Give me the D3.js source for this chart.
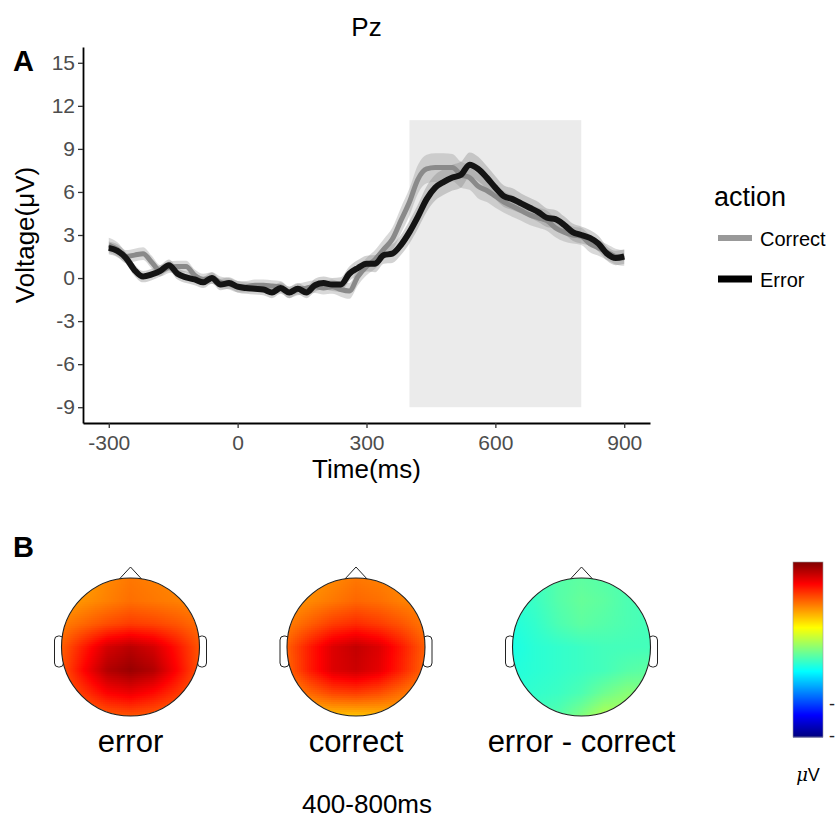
<!DOCTYPE html>
<html>
<head>
<meta charset="utf-8">
<script src="https://cdn.jsdelivr.net/npm/d3@7"></script>
<style>
  body { margin: 0; background: #fff; }
  svg { font-family: "Liberation Sans", Arial, sans-serif; }
</style>
</head>
<body>
<svg id="fig" width="835" height="820"></svg>
<script>
// ---- data ----
var times = [-300,-280,-260,-240,-220,-200,-180,-160,-140,-120,-100,-80,-60,-40,-20,
  0,20,40,60,80,100,120,140,160,180,200,220,240,260,280,
  300,320,340,360,380,400,420,440,460,480,500,520,540,560,580,
  600,620,640,660,680,700,720,740,760,780,800,820,840,860,880,900];

var correctVals = [2.3,2.0,1.5,1.6,1.7,1.1,0.5,0.75,0.8,0.8,0.2,-0.1,0.0,-0.3,-0.4,
  -0.6,-0.6,-0.5,-0.5,-0.55,-0.6,-1.0,-0.8,-0.7,-0.6,-0.7,-0.6,-0.8,-0.9,0.1,
  0.8,1.3,2.0,2.7,4.0,5.3,6.9,7.6,7.7,7.7,7.7,7.2,7.0,6.4,6.1,
  5.7,5.3,5.0,4.7,4.4,4.2,4.0,3.5,3.2,3.0,2.9,2.4,2.1,1.8,1.5,1.4];

var errorVals = [2.1,1.9,1.4,0.55,0.1,0.25,0.5,0.9,0.3,0.05,-0.1,-0.3,0.0,-0.45,-0.35,
  -0.6,-0.7,-0.75,-0.8,-1.0,-0.7,-1.0,-0.75,-1.0,-0.5,-0.35,-0.45,-0.45,0.3,0.7,
  1.0,1.0,1.6,1.7,2.3,3.2,4.3,5.5,6.3,6.7,7.0,7.2,7.9,7.6,7.0,
  6.3,5.7,5.5,5.2,4.9,4.6,4.2,4.1,3.7,3.2,3.0,2.8,2.4,1.7,1.4,1.5];

var correctSE = [0.5,0.5,0.45,0.45,0.45,0.45,0.4,0.4,0.4,0.4,0.4,0.4,0.4,0.4,0.4,
  0.4,0.4,0.4,0.4,0.4,0.4,0.4,0.4,0.45,0.45,0.45,0.5,0.5,0.55,0.6,
  0.6,0.65,0.7,0.8,0.9,0.95,1.0,1.0,1.0,1.0,0.95,0.9,0.85,0.85,0.8,
  0.8,0.75,0.75,0.7,0.7,0.7,0.7,0.65,0.65,0.6,0.6,0.6,0.55,0.55,0.55,0.55];

var errorSE = [0.45,0.45,0.4,0.4,0.4,0.4,0.4,0.4,0.4,0.4,0.4,0.4,0.4,0.4,0.4,
  0.4,0.4,0.4,0.4,0.4,0.4,0.4,0.4,0.4,0.45,0.45,0.45,0.5,0.5,0.55,
  0.55,0.6,0.6,0.65,0.7,0.8,0.85,0.9,0.9,0.9,0.9,0.9,0.85,0.85,0.8,
  0.8,0.75,0.75,0.7,0.7,0.7,0.65,0.65,0.6,0.6,0.6,0.55,0.55,0.5,0.5,0.5];

var xTicks = [-300, 0, 300, 600, 900];
var yTicks = [-9, -6, -3, 0, 3, 6, 9, 12, 15];
var window_ms = [400, 800];
var windowVolt = [-9, 11];

// topomap grids (rows top -> bottom, cols left -> right), in µV
var errorMap = [
  [2.6, 2.6, 2.9, 3.1, 3.0, 2.9, 2.8],
  [2.6, 2.8, 3.0, 3.2, 3.1, 3.0, 2.9],
  [3.0, 3.3, 3.6, 3.8, 3.7, 3.5, 3.2],
  [3.4, 4.2, 5.0, 5.3, 5.0, 4.3, 3.5],
  [3.5, 4.5, 5.4, 5.7, 5.4, 4.5, 3.5],
  [3.3, 3.9, 4.5, 4.7, 4.4, 3.9, 3.3],
  [3.0, 3.2, 3.4, 3.5, 3.4, 3.2, 3.0]
];
var correctMap = [
  [2.6, 2.7, 2.9, 3.1, 3.0, 2.9, 2.8],
  [2.7, 2.9, 3.1, 3.3, 3.2, 3.0, 2.9],
  [3.0, 3.4, 3.8, 4.0, 3.8, 3.5, 3.1],
  [3.4, 4.2, 4.9, 5.2, 4.9, 4.2, 3.4],
  [3.3, 4.2, 4.9, 5.1, 4.8, 4.1, 3.3],
  [2.8, 3.3, 3.7, 3.8, 3.6, 3.2, 2.8],
  [2.1, 2.2, 2.2, 2.2, 2.3, 2.4, 2.4]
];
var diffMap = [
  [-0.9, -0.8, -0.5, -0.4, -0.5, -0.6, -0.7],
  [-1.0, -0.8, -0.5, -0.3, -0.4, -0.6, -0.7],
  [-1.1, -0.9, -0.6, -0.4, -0.5, -0.6, -0.7],
  [-1.2, -1.0, -0.9, -0.8, -0.7, -0.7, -0.7],
  [-1.1, -1.0, -0.9, -0.8, -0.7, -0.5, -0.4],
  [-1.0, -0.9, -0.8, -0.6, -0.2, 0.1, 0.0],
  [-0.8, -0.7, -0.5, 0.0, 0.6, 0.5, 0.2]
];
var mapNames = ["error", "correct", "error - correct"];
var colorTicks = [-5.9, -3.7];

// ---- panel A ----
var svg = d3.select("#fig");

var x = d3.scaleLinear().domain([-360, 960]).range([83, 650]);
var y = d3.scaleLinear().domain([-10.1, 16.1]).range([423, 47]);

svg.append("rect")
  .attr("x", x(window_ms[0]))
  .attr("y", y(windowVolt[1]))
  .attr("width", x(window_ms[1]) - x(window_ms[0]))
  .attr("height", y(windowVolt[0]) - y(windowVolt[1]))
  .attr("fill", "#ebebeb");

var series = [
  { name: "Correct", vals: correctVals, se: correctSE, color: "#8a8a8a", width: 5, ribbon: "#9a9a9a", op: 0.38 },
  { name: "Error", vals: errorVals, se: errorSE, color: "#141414", width: 6, ribbon: "#8a8a8a", op: 0.38 }
];

var area = d3.area()
  .x(function (d) { return x(d.t); })
  .y0(function (d) { return y(d.v - d.se); })
  .y1(function (d) { return y(d.v + d.se); })
  .curve(d3.curveMonotoneX);

var line = d3.line()
  .x(function (d) { return x(d.t); })
  .y(function (d) { return y(d.v); })
  .curve(d3.curveMonotoneX);

function pts(s) {
  return times.map(function (t, i) { return { t: t, v: s.vals[i], se: s.se[i] }; });
}

series.forEach(function (s) {
  svg.append("path")
    .datum(pts(s))
    .attr("d", area)
    .attr("fill", s.ribbon)
    .attr("fill-opacity", s.op);
});
series.forEach(function (s) {
  svg.append("path")
    .datum(pts(s))
    .attr("d", line)
    .attr("fill", "none")
    .attr("stroke", s.color)
    .attr("stroke-width", s.width)
    .attr("stroke-linejoin", "round");
});

var xAxis = svg.append("g")
  .attr("transform", "translate(0,423)")
  .call(d3.axisBottom(x).tickValues(xTicks).tickFormat(String).tickSize(5).tickSizeOuter(0).tickPadding(7));
var yAxis = svg.append("g")
  .attr("transform", "translate(83,0)")
  .call(d3.axisLeft(y).tickValues(yTicks).tickFormat(String).tickSize(5).tickSizeOuter(0).tickPadding(3));

[xAxis, yAxis].forEach(function (g) {
  g.select(".domain").attr("stroke", "#000").attr("stroke-width", 1.8);
  g.selectAll(".tick line").attr("stroke", "#333").attr("stroke-width", 1.3);
  g.selectAll(".tick text")
    .attr("fill", "#4d4d4d")
    .style("font-size", "21px")
    .style("font-family", "Liberation Sans, Arial, sans-serif");
});

svg.append("text")
  .attr("x", 366.5).attr("y", 478)
  .attr("text-anchor", "middle")
  .style("font-size", "26px")
  .text("Time(ms)");

svg.append("text")
  .attr("transform", "translate(34,235) rotate(-90)")
  .attr("text-anchor", "middle")
  .style("font-size", "26px")
  .text("Voltage(μV)");

svg.append("text")
  .attr("x", 366.5).attr("y", 36)
  .attr("text-anchor", "middle")
  .style("font-size", "26px")
  .text("Pz");

svg.append("text").attr("x", 13).attr("y", 71)
  .style("font-size", "29px").style("font-weight", "bold").text("A");
svg.append("text").attr("x", 13).attr("y", 557)
  .style("font-size", "29px").style("font-weight", "bold").text("B");

// legend
var legend = svg.append("g").attr("transform", "translate(714,0)");
legend.append("text").attr("x", 0).attr("y", 206)
  .style("font-size", "27px").text("action");
series.forEach(function (s, i) {
  var ly = 238 + i * 41;
  legend.append("line")
    .attr("x1", 4).attr("x2", 38).attr("y1", ly).attr("y2", ly)
    .attr("stroke", i === 0 ? "#999" : "#000")
    .attr("stroke-width", s.width + 1);
  legend.append("text").attr("x", 46).attr("y", ly + 8)
    .style("font-size", "20px").text(s.name);
});

// ---- panel B: topomaps ----
var jet = d3.scaleLinear()
  .domain([-6, -4.5, -1.5, 1.5, 4.5, 6])
  .range(["#00007f", "#0000ff", "#00ffff", "#ffff00", "#ff0000", "#7f0000"])
  .clamp(true);

var headR = 69;
var headX = [130.5, 356, 581.5];
var headY = 647;
var maps = [errorMap, correctMap, diffMap];
var defs = svg.append("defs");

function sample(grid, u, v) {
  var n = grid.length - 1;
  var gx = u * n, gy = v * n;
  var i0 = Math.max(0, Math.min(n - 1, Math.floor(gx)));
  var j0 = Math.max(0, Math.min(n - 1, Math.floor(gy)));
  var fx = gx - i0, fy = gy - j0;
  var a = grid[j0][i0], b = grid[j0][i0 + 1];
  var c = grid[j0 + 1][i0], d = grid[j0 + 1][i0 + 1];
  return (a * (1 - fx) + b * fx) * (1 - fy) + (c * (1 - fx) + d * fx) * fy;
}

maps.forEach(function (grid, k) {
  var cx = headX[k], cy = headY;
  var g = svg.append("g");

  // ears
  [-1, 1].forEach(function (side) {
    g.append("rect")
      .attr("x", side < 0 ? cx - headR - 7 : cx + headR - 2)
      .attr("y", cy - 11)
      .attr("width", 9).attr("height", 31).attr("rx", 4)
      .attr("fill", "#fff").attr("stroke", "#222").attr("stroke-width", 1);
  });
  // nose
  g.append("path")
    .attr("d", "M" + (cx - 12) + "," + (cy - headR + 2) + "L" + cx + "," + (cy - headR - 11) +
      "L" + (cx + 12) + "," + (cy - headR + 2))
    .attr("fill", "#fff").attr("stroke", "#222").attr("stroke-width", 1);

  defs.append("clipPath").attr("id", "clip" + k)
    .append("circle").attr("cx", cx).attr("cy", cy).attr("r", headR);

  var u = d3.scaleLinear().domain([cx - headR, cx + headR]).range([0, 1]).clamp(true);
  var v = d3.scaleLinear().domain([cy - headR, cy + headR]).range([0, 1]).clamp(true);
  var step = 2;
  var cells = [];
  for (var px = cx - headR; px < cx + headR; px += step) {
    for (var py = cy - headR; py < cy + headR; py += step) {
      var dx = px + step / 2 - cx, dy = py + step / 2 - cy;
      if (dx * dx + dy * dy > (headR + 3) * (headR + 3)) continue;
      cells.push({ x: px, y: py, val: sample(grid, u(px + step / 2), v(py + step / 2)) });
    }
  }
  g.append("g").attr("clip-path", "url(#clip" + k + ")")
    .selectAll("rect").data(cells).enter().append("rect")
    .attr("x", function (d) { return d.x; })
    .attr("y", function (d) { return d.y; })
    .attr("width", step + 0.6).attr("height", step + 0.6)
    .attr("fill", function (d) { return jet(d.val); });

  g.append("circle").attr("cx", cx).attr("cy", cy).attr("r", headR)
    .attr("fill", "none").attr("stroke", "#222").attr("stroke-width", 1.1);

  svg.append("text").attr("x", cx).attr("y", 752)
    .attr("text-anchor", "middle").style("font-size", "31px").text(mapNames[k]);
});

svg.append("text").attr("x", 367).attr("y", 813)
  .attr("text-anchor", "middle").style("font-size", "26px").text("400-800ms");

// colorbar
var cb = d3.scaleLinear().domain([-6, 6]).range([737, 562]);
var cbCells = d3.range(562, 737, 1);
svg.append("g").selectAll("rect").data(cbCells).enter().append("rect")
  .attr("x", 793).attr("y", function (d) { return d; })
  .attr("width", 30).attr("height", 1.5)
  .attr("fill", function (d) { return jet(cb.invert(d + 0.5)); });
svg.append("rect").attr("x", 793).attr("y", 562).attr("width", 30).attr("height", 175)
  .attr("fill", "none").attr("stroke", "#999").attr("stroke-width", 0.6);
svg.append("g").attr("transform", "translate(823,0)")
  .call(d3.axisRight(cb).tickValues(colorTicks).tickSize(0).tickPadding(6).tickFormat(function () { return "-"; }))
  .call(function (g) {
    g.select(".domain").remove();
    g.selectAll("text").style("font-size", "18px").attr("fill", "#222");
  });
svg.append("text").attr("x", 808).attr("y", 781).attr("text-anchor", "middle")
  .style("font-size", "18px")
  .html('<tspan font-style="italic" font-family="DejaVu Serif, serif">μ</tspan>V');
</script>
</body>
</html>
